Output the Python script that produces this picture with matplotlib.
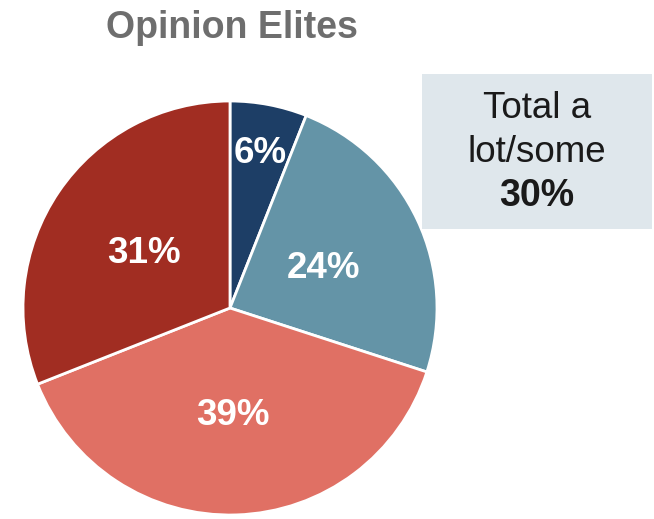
import numpy as np
import matplotlib
matplotlib.use("Agg")
import matplotlib.pyplot as plt
from matplotlib.patches import Rectangle

plt.rcParams["font.family"] = ["Liberation Sans", "DejaVu Sans"]

labels = ["A lot", "Some", "Not much", "Not at all"]
shares = [6, 24, 39, 31]
colors = ["#1D3E66", "#6494A7", "#E07064", "#A12D22"]
title = "Opinion Elites"
total_lines = ["Total a", "lot/some"]
total_value = "30%"

W, H = 654, 519
fig = plt.figure(figsize=(W / 100, H / 100), dpi=100)

# pie axes: center (230, 308) px, radius ~207 px
cx, cy, r = 230, 308, 207
ax = fig.add_axes([(cx - r) / W, (H - cy - r) / H, 2 * r / W, 2 * r / H])
wedges, texts, autotexts = ax.pie(
    shares, colors=colors, startangle=90, counterclock=False,
    autopct="%d%%", pctdistance=0.5, radius=1,
    wedgeprops=dict(edgecolor="white", linewidth=2),
    textprops=dict(color="white", fontsize=26.5, fontweight="bold"),
)
# small slice label sits further out; nudge all labels down a touch
for i, (w, t) in enumerate(zip(wedges, autotexts)):
    mid = np.deg2rad((w.theta1 + w.theta2) / 2)
    d = 0.78 if i == 0 else 0.5
    t.set_position((d * np.cos(mid), d * np.sin(mid) - 0.02))
ax.set_xlim(-1, 1)
ax.set_ylim(-1, 1)
ax.set_aspect("equal")
ax.axis("off")

fig.text(232 / W, 1 - 28 / H, title, ha="center", va="center",
         fontsize=27, fontweight="bold", color="#6E6E6E")

# summary box
fig.patches.append(Rectangle((422 / W, 1 - 229 / H), 230 / W, 155 / H,
                             transform=fig.transFigure, facecolor="#DFE7EC",
                             edgecolor="none"))
fig.text(537 / W, 1 - 108 / H, total_lines[0], ha="center", va="center",
         fontsize=26.5, color="#1A1A1A")
fig.text(537 / W, 1 - 153 / H, total_lines[1], ha="center", va="center",
         fontsize=26.5, color="#1A1A1A")
fig.text(537 / W, 1 - 196 / H, total_value, ha="center", va="center",
         fontsize=27, fontweight="bold", color="#1A1A1A")

fig.savefig("out.png", dpi=100, facecolor="white")
